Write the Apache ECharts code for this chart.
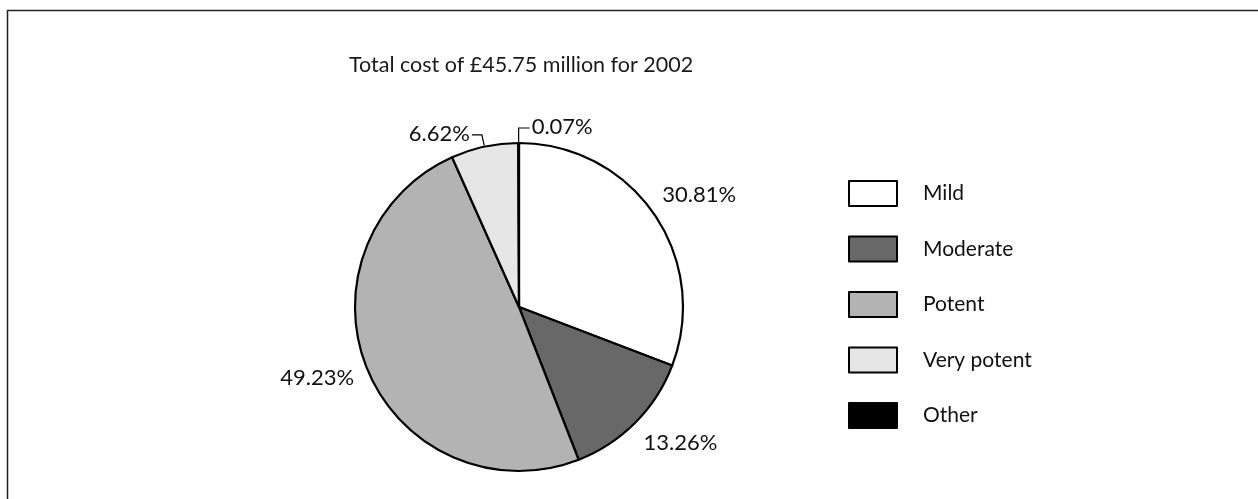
<!DOCTYPE html>
<html>
<head>
<meta charset="utf-8">
<title>Total cost by category, 2002</title>
<script src="https://cdn.jsdelivr.net/npm/echarts@6/dist/echarts.min.js"></script>
<style>
  html, body { margin: 0; padding: 0; background: #ffffff; }
  #chart { width: 1258px; height: 499px; }
</style>
</head>
<body>
<div id="chart"></div>
<script>
// Cost share by category (percent of total)
const categories = ['Mild', 'Moderate', 'Potent', 'Very potent', 'Other'];
const shares = [30.81, 13.26, 49.23, 6.62, 0.07];
const sliceColors = ['#ffffff', '#686868', '#b3b3b3', '#e6e6e6', '#000000'];
const titleText = 'Total cost of £45.75 million for 2002';

const FONT = 'Lato, "Open Sans", sans-serif';
const CX = 519, CY = 307, R = 164;

// Label placement: angular nudge (deg) and distance from centre for the plain labels,
// leader-line style for the two thin slices.
const labelStyle = [
  { nudge: 2.7, dist: 212 },
  { nudge: -4.7, dist: 211 },
  { nudge: 3.3, dist: 214 },
  { leader: 'left' },
  { leader: 'right' }
];

const total = shares.reduce((a, b) => a + b, 0);
const midAngles = [];
let acc = 0;
shares.forEach(v => {
  midAngles.push((acc + v / 2) / total * 360);
  acc += v;
});

function polar(angleDeg, r) {
  const a = angleDeg * Math.PI / 180;
  return [CX + r * Math.sin(a), CY - r * Math.cos(a)];
}

const chart = echarts.init(document.getElementById('chart'), null, { renderer: 'canvas' });

chart.setOption({
  animation: false,
  backgroundColor: '#ffffff',
  title: {
    text: titleText,
    left: 344,
    top: 49,
    textStyle: { fontFamily: FONT, fontSize: 21.5, fontWeight: 'normal', color: '#1a1a1a' }
  },
  graphic: [{
    type: 'rect',
    shape: { x: 7.5, y: 10.5, width: 1400, height: 700 },
    style: { fill: 'none', stroke: '#222222', lineWidth: 1.5 },
    silent: true,
    z: -1
  }],
  legend: {
    orient: 'vertical',
    left: 843,
    top: 175,
    icon: 'rect',
    itemWidth: 48,
    itemHeight: 25,
    itemGap: 28.5,
    selectedMode: false,
    itemStyle: { borderColor: '#000000', borderWidth: 2 },
    textStyle: { fontFamily: FONT, fontSize: 21, color: '#111111', padding: [0, 0, 0, 21] },
    data: categories
  },
  series: [{
    type: 'pie',
    center: [CX, CY],
    radius: R,
    startAngle: 90,
    clockwise: true,
    avoidLabelOverlap: false,
    itemStyle: { borderColor: '#000000', borderWidth: 2.2 },
    label: {
      show: true,
      position: 'outside',
      formatter: p => p.value.toFixed(2) + '%',
      fontFamily: FONT,
      fontSize: 22,
      color: '#111111'
    },
    labelLine: { show: false, lineStyle: { color: '#000000', width: 1.2 } },
    labelLayout: function (params) {
      const i = params.dataIndex;
      const s = labelStyle[i];
      const mid = midAngles[i];
      if (s.leader) {
        const edge = polar(mid, R + 1);
        const elbow = s.leader === 'left' ? polar(mid, R + 12) : [edge[0], edge[1] - 14];
        const endX = s.leader === 'left' ? elbow[0] - 10 : elbow[0] + 11;
        return {
          x: s.leader === 'left' ? endX - 2 : endX + 2,
          y: elbow[1] - 1,
          align: s.leader === 'left' ? 'right' : 'left',
          verticalAlign: 'middle',
          labelLinePoints: [edge, elbow, [endX, elbow[1]]]
        };
      }
      const p = polar(mid + s.nudge, s.dist);
      return { x: p[0], y: p[1], align: 'center', verticalAlign: 'middle' };
    },
    emphasis: { disabled: true },
    data: categories.map((name, i) => ({
      name: name,
      value: shares[i],
      itemStyle: { color: sliceColors[i] },
      labelLine: { show: !!labelStyle[i].leader }
    }))
  }]
});
</script>
</body>
</html>
